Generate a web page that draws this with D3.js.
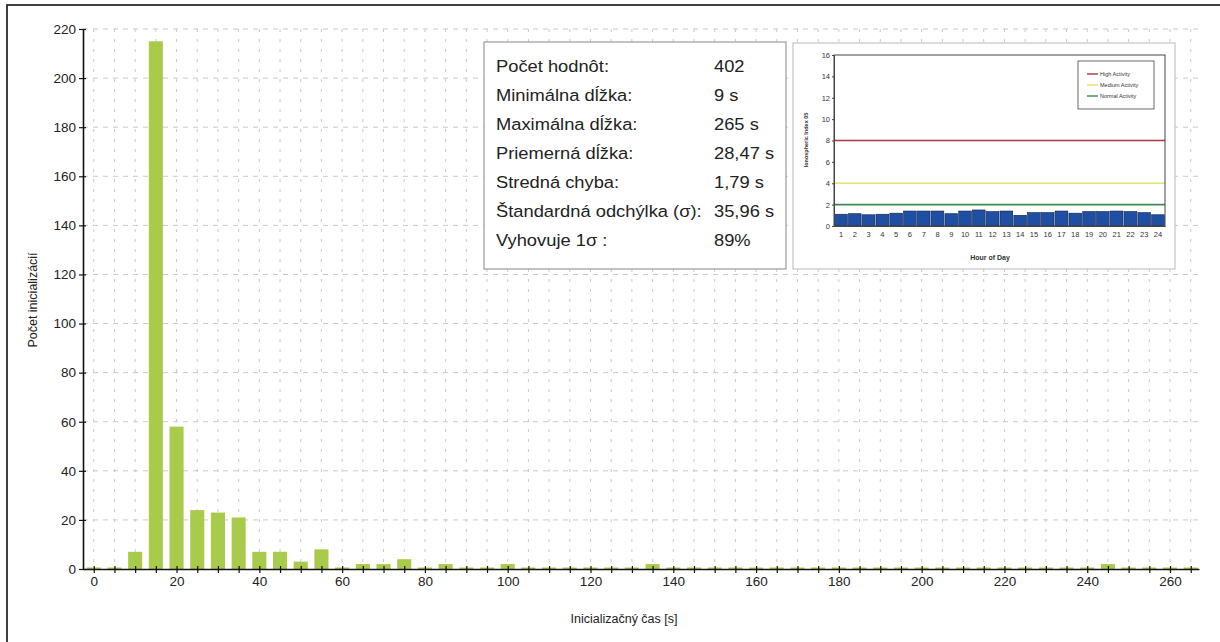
<!DOCTYPE html>
<html><head><meta charset="utf-8">
<script src="https://cdn.jsdelivr.net/npm/d3@7"></script>
<style>body{margin:0;background:#fff}svg{display:block}</style>
</head><body>
<svg id="c" width="1220" height="642"></svg>
<script>
// ---- main histogram data ----
const binStarts = [0,5,10,15,20,25,30,35,40,45,50,55,60,65,70,75,80,85,90,95,100,105,110,115,120,125,130,135,140,145,150,155,160,165,170,175,180,185,190,195,200,205,210,215,220,225,230,235,240,245,250,255,260,265];
const counts    = [0,0,7,215,58,24,23,21,7,7,3,8,0.4,2,2,4,0.4,2,0,0,2,0,0,0,0,0,0,2,0,0,0,0,0,0,0,0,0,0,0,0,0,0,0,0,0,0,0,0,0,2,0,0,0,0];
const yTicks = [0,20,40,60,80,100,120,140,160,180,200,220];
const xLabelTicks = [0,20,40,60,80,100,120,140,160,180,200,220,240,260];
const xTitle = "Inicializačný čas [s]";
const yTitle = "Počet inicializácií";
// ---- stats box ----
const statLabels = ["Počet hodnôt:","Minimálna dĺžka:","Maximálna dĺžka:","Priemerná dĺžka:","Stredná chyba:","Štandardná odchýlka (σ):","Vyhovuje 1σ :"];
const statValues = ["402","9 s","265 s","28,47 s","1,79 s","35,96 s","89%"];
// ---- inset chart ----
const hours = ["1","2","3","4","5","6","7","8","9","10","11","12","13","14","15","16","17","18","19","20","21","22","23","24"];
const hourValues = [1.1,1.15,1.05,1.1,1.2,1.4,1.4,1.4,1.15,1.4,1.5,1.35,1.4,1.0,1.25,1.25,1.4,1.2,1.35,1.35,1.4,1.35,1.25,1.05];
const insetYTicks = [0,2,4,6,8,10,12,14,16];
const levelNames = ["High Activity","Medium Activity","Normal Activity"];
const levelValues = [8,4,2];
const levelColors = ["#a23a3f","#e2e36a","#3f8a4c"];

const svg = d3.select("#c");
const F = "'Liberation Sans', Arial, sans-serif";

// outer frame (top & left visible)
svg.append("rect").attr("x",7).attr("y",5).attr("width",1230).attr("height",660)
  .attr("fill","none").attr("stroke","#111").attr("stroke-width",1.6);

const x = d3.scaleLinear().domain([-2.6,267]).range([83,1199]);
const y = d3.scaleLinear().domain([0,220]).range([569,29]);

// grid
const grid = svg.append("g").attr("stroke","#c9c9c9").attr("stroke-width",1).attr("stroke-dasharray","5,5");
grid.selectAll("line.h").data(yTicks.filter(d=>d>0)).join("line")
  .attr("x1",x.range()[0]).attr("x2",x.range()[1]).attr("y1",d=>y(d)).attr("y2",d=>y(d));
grid.selectAll("line.v").data(binStarts).join("line")
  .attr("x1",d=>x(d)).attr("x2",d=>x(d)).attr("y1",y(220)).attr("y2",y(0)).attr("stroke-dasharray","3,7");

// bars
const bw = x(3.4)-x(0);
svg.append("g").selectAll("rect").data(binStarts.map((b,i)=>({b,v:counts[i]}))).join("rect")
  .attr("x",d=>x(d.b)-bw/2).attr("width",bw)
  .attr("y",d=>Math.min(y(d.v),y(0)-1.5)).attr("height",d=>Math.max(1.5,y(0)-y(d.v)))
  .attr("fill","#a9cb4b");

// axes
const xa = svg.append("g").attr("transform",`translate(0,${y(0)})`)
  .call(d3.axisBottom(x).tickValues(binStarts).tickSizeInner(4).tickSizeOuter(0).tickPadding(3)
    .tickFormat(d=>xLabelTicks.includes(d)?d:""));
xa.selectAll(".tick line").attr("y1",-3);
const ya = svg.append("g").attr("transform",`translate(${x.range()[0]},0)`)
  .call(d3.axisLeft(y).tickValues(yTicks).tickSizeInner(4).tickSizeOuter(0).tickPadding(3));
ya.selectAll(".tick line").attr("x1",3);
[xa,ya].forEach(a=>{
  a.select(".domain").attr("stroke","#111").attr("stroke-width",1.6);
  a.selectAll(".tick line").attr("stroke","#111").attr("stroke-width",1.2);
  a.selectAll("text").attr("font-family",F).attr("font-size",13.5).attr("fill","#222");
});

svg.append("text").attr("x",624).attr("y",623).attr("text-anchor","middle")
  .attr("font-family",F).attr("font-size",12.5).attr("fill","#222").text(xTitle);
svg.append("text").attr("transform","translate(37,300) rotate(-90)").attr("text-anchor","middle")
  .attr("font-family",F).attr("font-size",12.5).attr("fill","#222").text(yTitle);

// stats box
svg.append("rect").attr("x",484).attr("y",42).attr("width",302).attr("height",227)
  .attr("fill","#fff").attr("stroke","#9a9a9a").attr("stroke-width",1.2);
const st = svg.append("g").attr("font-family",F).attr("font-size",16.5).attr("fill","#222");
statLabels.forEach((l,i)=>{
  const yy = 72+i*29;
  st.append("text").attr("transform",`translate(496,${yy}) scale(1.11,1)`).text(l);
  st.append("text").attr("transform",`translate(714,${yy}) scale(1.11,1)`).text(statValues[i]);
});

// inset
const ins = svg.append("g");
ins.append("rect").attr("x",793).attr("y",43).attr("width",382).attr("height",226)
  .attr("fill","#fff").attr("stroke","#c4c4c4").attr("stroke-width",1.2);
const xi = d3.scaleBand().domain(hours).range([834,1165]).paddingInner(0.08).paddingOuter(0.05);
const yi = d3.scaleLinear().domain([0,16]).range([226,55]);
ins.selectAll("rect.b").data(hours.map((h,i)=>({h,v:hourValues[i]}))).join("rect")
  .attr("x",d=>xi(d.h)).attr("width",xi.bandwidth()).attr("y",d=>yi(d.v)).attr("height",d=>yi(0)-yi(d.v))
  .attr("fill","#1f4fa3").attr("stroke","#0d1f4a").attr("stroke-width",0.6);
ins.selectAll("line.lv").data(levelValues).join("line")
  .attr("x1",834).attr("x2",1165).attr("y1",d=>yi(d)).attr("y2",d=>yi(d))
  .attr("stroke",(d,i)=>levelColors[i]).attr("stroke-width",1.6);
ins.append("rect").attr("x",834).attr("y",55).attr("width",331).attr("height",171)
  .attr("fill","none").attr("stroke","#444").attr("stroke-width",1);
const yia = ins.append("g").attr("transform","translate(834,0)")
  .call(d3.axisLeft(yi).tickValues(insetYTicks).tickSize(2).tickPadding(2));
const xia = ins.append("g").attr("transform","translate(0,226)")
  .call(d3.axisBottom(xi).tickSize(0).tickPadding(6));
[yia,xia].forEach(a=>{
  a.select(".domain").attr("stroke","#444");
  a.selectAll(".tick line").attr("stroke","#444");
  a.selectAll("text").attr("font-family",F).attr("font-size",7.5).attr("fill","#333");
});
ins.append("text").attr("x",990).attr("y",260).attr("text-anchor","middle")
  .attr("font-family",F).attr("font-size",7).attr("font-weight","bold").attr("fill","#333").text("Hour of Day");
ins.append("text").attr("transform","translate(808,140) rotate(-90)").attr("text-anchor","middle")
  .attr("font-family",F).attr("font-size",5.5).attr("font-weight","bold").attr("fill","#333").text("Ionospheric Index 05");
// legend
ins.append("rect").attr("x",1078).attr("y",61).attr("width",76).attr("height",48)
  .attr("fill","#fff").attr("stroke","#444").attr("stroke-width",0.8);
levelNames.forEach((n,i)=>{
  const yy = 74+i*11;
  ins.append("line").attr("x1",1087).attr("x2",1098).attr("y1",yy).attr("y2",yy)
    .attr("stroke",levelColors[i]).attr("stroke-width",1.4);
  ins.append("text").attr("x",1100).attr("y",yy+2).attr("font-family",F).attr("font-size",5.5).attr("fill","#333").text(n);
});
</script>
</body></html>
